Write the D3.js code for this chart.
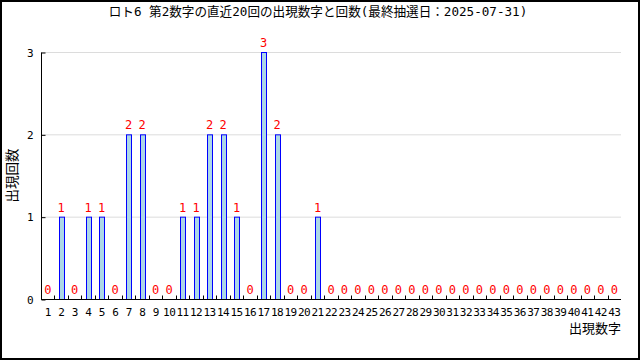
<!DOCTYPE html>
<html>
<head>
<meta charset="utf-8">
<script src="https://cdn.jsdelivr.net/npm/d3@7"></script>
<style>
  body { margin: 0; background: #fff; }
  svg { display: block; }
  text { font-family: "DejaVu Sans Mono", "Noto Sans CJK JP", monospace; }
</style>
</head>
<body>
<div id="chart"></div>
<script>
const w = 640;
const h = 360;

const title = "ロト6 第2数字の直近20回の出現数字と回数(最終抽選日：2025-07-31)";
const numbers = d3.range(1, 44);
const counts = [0, 1, 0, 1, 1, 0, 2, 2, 0, 0,
                1, 1, 2, 2, 1, 0, 3, 2, 0, 0,
                1, 0, 0, 0, 0, 0, 0, 0, 0, 0,
                0, 0, 0, 0, 0, 0, 0, 0, 0, 0,
                0, 0, 0];
const yTicks = [0, 1, 2, 3];

const rows = numbers.map((n, i) => ({num: n, count: counts[i]}));

const margin = {left: 41, right: 18, top: 52, bottom: 61};

const svg = d3.select("#chart").append("svg")
  .attr("width", w)
  .attr("height", h);

// outer frame
svg.append("rect")
  .attr("x", 1).attr("y", 1)
  .attr("width", w - 2).attr("height", h - 2)
  .attr("fill", "#fff").attr("stroke", "#000").attr("stroke-width", 2);

const x = d3.scaleLinear().domain([0.5, 43.5]).range([margin.left, w - margin.right - 1]);
const y = d3.scaleLinear().domain([0, 3]).range([h - margin.bottom, margin.top]);

// grid
svg.append("g").selectAll("line")
  .data(yTicks.filter(d => d > 0))
  .join("line")
  .attr("x1", margin.left).attr("x2", x(43.5))
  .attr("y1", d => y(d) + 0.5).attr("y2", d => y(d) + 0.5)
  .attr("stroke", "#dcdcdc");

// bars
const barW = 5;
svg.append("g").selectAll("rect")
  .data(rows.filter(d => d.count > 0))
  .join("rect")
  .attr("x", d => Math.round(x(d.num) - barW / 2) + 0.5)
  .attr("y", d => y(d.count) + 0.5)
  .attr("width", barW)
  .attr("height", d => y(0) - y(d.count))
  .attr("fill", "#add8e6")
  .attr("stroke", "#0000ff")
  .attr("stroke-width", 1);

// value labels
svg.append("g").selectAll("text")
  .data(rows)
  .join("text")
  .attr("x", d => x(d.num))
  .attr("y", d => y(d.count) - 5)
  .attr("text-anchor", "middle")
  .attr("fill", "#ff0000")
  .attr("font-size", 12)
  .text(d => d.count);

// y axis
const yAxis = d3.axisLeft(y).tickValues(yTicks).tickSize(-4).tickPadding(8).tickFormat(d3.format("d"));
svg.append("g")
  .attr("transform", `translate(${margin.left + 0.5},0.5)`)
  .call(yAxis)
  .call(g => g.selectAll("text").attr("font-size", 11).attr("fill", "#000"))
  .call(g => g.select(".domain").attr("d", `M0,${y(3)}V${y(0)}`));

// x axis: ticks at band boundaries, labels at centres
const xg = svg.append("g").attr("transform", `translate(0,${y(0) + 0.5})`);
xg.append("line")
  .attr("x1", margin.left).attr("x2", x(43.5))
  .attr("stroke", "#000");
xg.selectAll(".tk")
  .data(d3.range(1.5, 43.5, 1))
  .join("line")
  .attr("class", "tk")
  .attr("x1", d => Math.round(x(d)) + 0.5).attr("x2", d => Math.round(x(d)) + 0.5)
  .attr("y1", 0).attr("y2", -4)
  .attr("stroke", "#000");
xg.selectAll("text")
  .data(numbers)
  .join("text")
  .attr("x", d => x(d))
  .attr("y", 16)
  .attr("text-anchor", "middle")
  .attr("font-size", 11)
  .attr("letter-spacing", -0.6)
  .text(d => d);

// axis titles
svg.append("text")
  .attr("x", x(43.5))
  .attr("y", 333)
  .attr("text-anchor", "end")
  .attr("font-size", 13)
  .attr("font-family", "Noto Sans CJK JP")
  .text("出現数字");

svg.append("text")
  .attr("transform", `translate(17,${(y(0) + y(3)) / 2}) rotate(-90)`)
  .attr("text-anchor", "middle")
  .attr("font-size", 13.5)
  .attr("font-family", "Noto Sans CJK JP")
  .text("出現回数");

// title
svg.append("text")
  .attr("x", 318)
  .attr("y", 16)
  .attr("text-anchor", "middle")
  .attr("font-size", 12.6)
  .text(title);
</script>
</body>
</html>
